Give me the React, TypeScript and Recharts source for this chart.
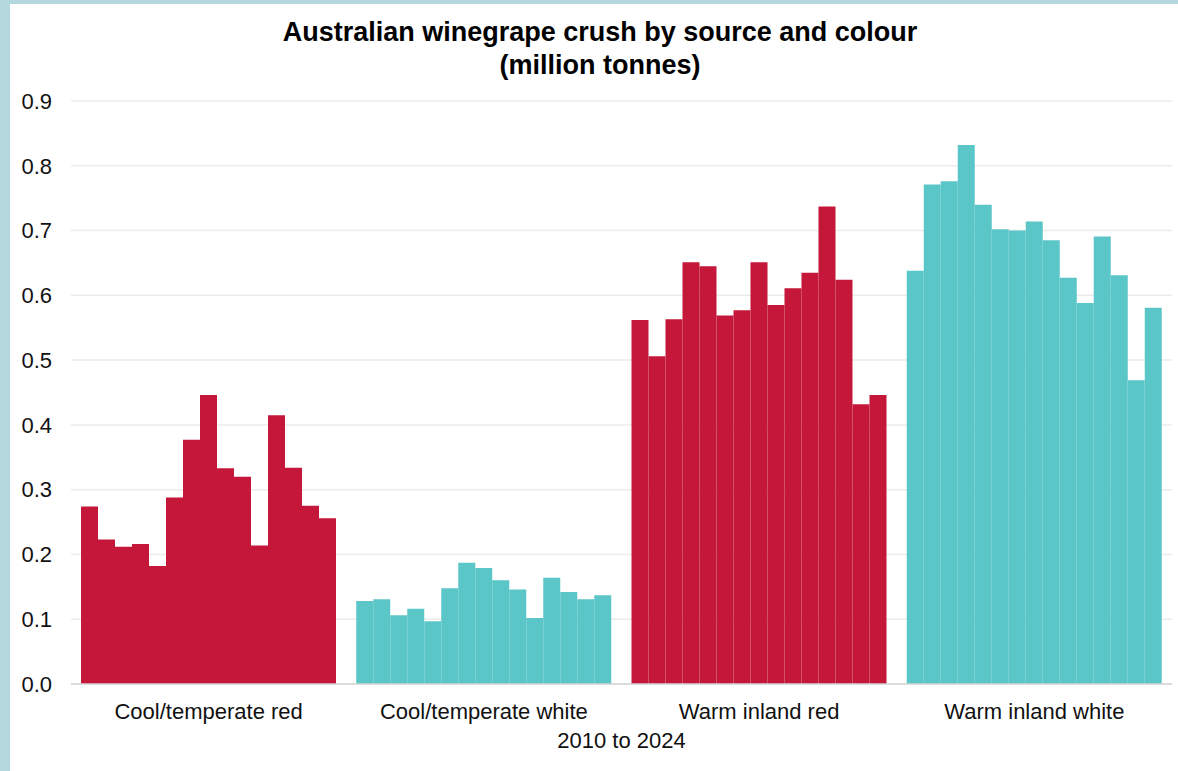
import React from 'react';
import { BarChart, Bar, XAxis, YAxis, CartesianGrid, Cell } from 'recharts';

const categories = ['Cool/temperate red', 'Cool/temperate white', 'Warm inland red', 'Warm inland white'];
const years = [2010, 2011, 2012, 2013, 2014, 2015, 2016, 2017, 2018, 2019, 2020, 2021, 2022, 2023, 2024];

const coolRed = [0.274, 0.223, 0.212, 0.216, 0.182, 0.288, 0.377, 0.446, 0.333, 0.320, 0.214, 0.415, 0.334, 0.275, 0.256];
const coolWhite = [0.128, 0.131, 0.106, 0.116, 0.097, 0.148, 0.187, 0.179, 0.160, 0.146, 0.102, 0.164, 0.142, 0.131, 0.137];
const warmRed = [0.562, 0.506, 0.563, 0.651, 0.645, 0.569, 0.577, 0.651, 0.585, 0.611, 0.635, 0.737, 0.624, 0.432, 0.446];
const warmWhite = [0.638, 0.771, 0.776, 0.832, 0.740, 0.702, 0.700, 0.714, 0.685, 0.627, 0.588, 0.691, 0.631, 0.469, 0.581];

const yTicks = [0, 0.1, 0.2, 0.3, 0.4, 0.5, 0.6, 0.7, 0.8, 0.9];

const RED = '#c4173a';
const TEAL = '#5bc6c8';
const colours = [RED, TEAL, RED, TEAL];

const series = [coolRed, coolWhite, warmRed, warmWhite];

// one row per category, one key per year
const chartData = categories.map((name, i) => {
  const row: any = { name };
  years.forEach((yr, j) => {
    row[`y${yr}`] = series[i][j];
  });
  return row;
});

const font = '"Liberation Sans", Arial, sans-serif';

export default function App() {
  return (
    <div style={{ position: 'absolute', left: 0, top: 0, width: 1178, height: 771, background: '#b4d8de', fontFamily: font }}>
      <div style={{ position: 'absolute', left: 10, top: 4, width: 1168, height: 767, background: '#fff' }} />
      <div
        style={{
          position: 'absolute',
          left: 0,
          top: 16,
          width: 1200,
          textAlign: 'center',
          fontWeight: 'bold',
          fontSize: 27,
          lineHeight: '33px',
          color: '#000',
        }}
      >
        Australian winegrape crush by source and colour
        <br />
        (million tonnes)
      </div>
      <div style={{ position: 'absolute', left: 0, top: 0 }}>
        <BarChart
          width={1178}
          height={771}
          data={chartData}
          margin={{ top: 101, right: 6, bottom: 27, left: 11 }}
          barGap={0}
          barCategoryGap={10}
        >
          <CartesianGrid vertical={false} stroke="#ebebeb" strokeWidth={1.5} />
          <XAxis
            dataKey="name"
            axisLine={{ stroke: '#d4d4d4', strokeWidth: 1.5 }}
            tickLine={false}
            tickSize={0}
            tickMargin={19}
            height={60}
            interval={0}
            tick={{ fontSize: 22, fill: '#111', fontFamily: font }}
          />
          <YAxis
            domain={[0, 0.9]}
            ticks={yTicks}
            axisLine={false}
            tickLine={false}
            tickSize={0}
            tickMargin={19}
            width={60}
            tickFormatter={(v: number) => v.toFixed(1)}
            tick={{ fontSize: 22, fill: '#111', fontFamily: font }}
          />
          {years.map((yr) => (
            <Bar key={yr} dataKey={`y${yr}`} isAnimationActive={false}>
              {chartData.map((_, i) => (
                <Cell key={`c-${i}`} fill={colours[i]} />
              ))}
            </Bar>
          ))}
        </BarChart>
      </div>
      <div
        style={{
          position: 'absolute',
          left: 71,
          width: 1101,
          top: 730,
          textAlign: 'center',
          fontSize: 22,
          lineHeight: '22px',
          color: '#111',
        }}
      >
        2010 to 2024
      </div>
    </div>
  );
}
